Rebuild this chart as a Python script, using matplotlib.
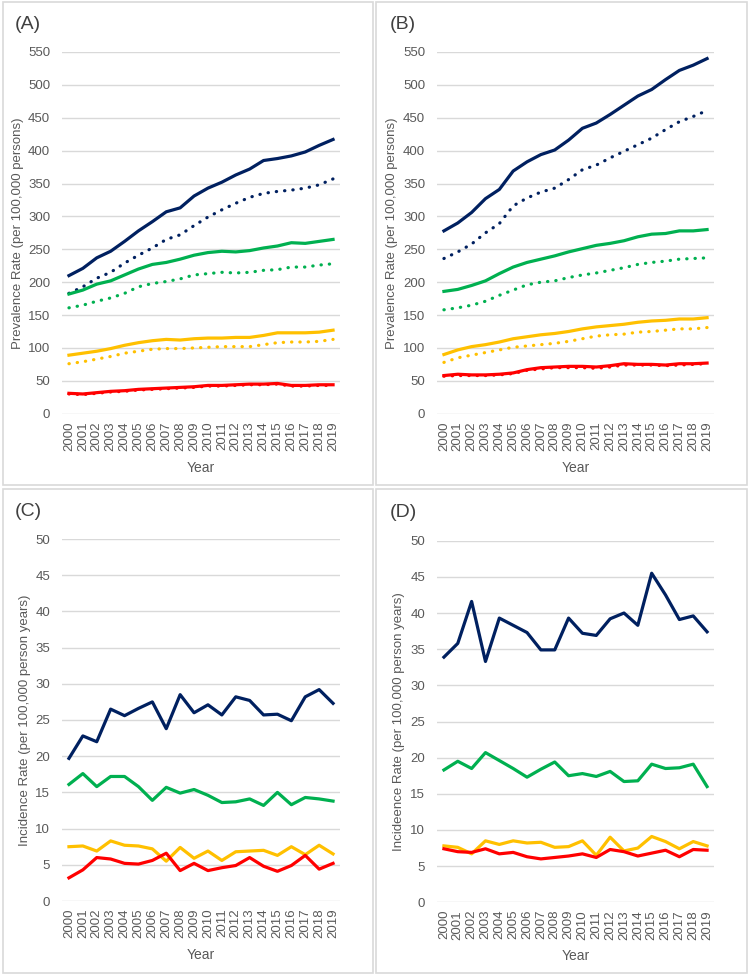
import matplotlib
matplotlib.use("Agg")
import matplotlib.pyplot as plt
from matplotlib.patches import Rectangle

plt.rcParams['font.family'] = ['Liberation Sans', 'DejaVu Sans']

years = [str(y) for y in range(2000, 2020)]

# Panel A - prevalence (solid / dotted)
a_navy = [210, 221, 237, 247, 262, 278, 292, 307, 313, 331, 343, 352, 363, 372, 385, 388, 392, 398, 408, 417]
a_navy_dot = [183, 193, 206, 215, 229, 241, 252, 265, 272, 286, 299, 310, 320, 329, 335, 338, 340, 343, 348, 357]
a_green = [182, 188, 197, 202, 211, 220, 227, 230, 235, 241, 245, 247, 246, 248, 252, 255, 260, 259, 262, 265]
a_green_dot = [161, 165, 171, 176, 183, 193, 198, 201, 205, 211, 213, 215, 214, 215, 218, 219, 223, 223, 226, 228]
a_yellow = [89, 92, 95, 99, 104, 108, 111, 113, 112, 114, 115, 115, 116, 116, 119, 123, 123, 123, 124, 127]
a_yellow_dot = [76, 79, 83, 87, 92, 95, 98, 99, 99, 100, 101, 102, 102, 102, 105, 108, 109, 109, 110, 113]
a_red = [31, 30, 32, 34, 35, 37, 38, 39, 40, 41, 43, 43, 44, 45, 45, 46, 43, 43, 44, 44]
a_red_dot = [30, 29, 31, 33, 34, 36, 37, 38, 39, 40, 42, 42, 43, 44, 44, 45, 42, 42, 43, 43]

# Panel B - prevalence (solid / dotted)
b_navy = [278, 290, 306, 327, 341, 369, 383, 394, 401, 416, 434, 442, 455, 469, 483, 493, 508, 522, 530, 540]
b_navy_dot = [236, 246, 258, 275, 289, 316, 328, 337, 343, 356, 371, 378, 389, 399, 409, 419, 432, 444, 452, 461]
b_green = [186, 189, 195, 202, 213, 223, 230, 235, 240, 246, 251, 256, 259, 263, 269, 273, 274, 278, 278, 280]
b_green_dot = [158, 161, 165, 171, 180, 188, 196, 200, 202, 207, 211, 214, 218, 222, 227, 230, 232, 235, 236, 237]
b_yellow = [90, 97, 102, 105, 109, 114, 117, 120, 122, 125, 129, 132, 134, 136, 139, 141, 142, 144, 144, 146]
b_yellow_dot = [78, 85, 89, 93, 97, 101, 103, 105, 107, 110, 114, 118, 120, 121, 124, 125, 127, 129, 129, 131]
b_red = [58, 60, 59, 59, 60, 62, 67, 70, 71, 72, 72, 71, 73, 76, 75, 75, 74, 76, 76, 77]
b_red_dot = [57, 58, 58, 58, 59, 61, 66, 68, 70, 70, 70, 69, 71, 74, 74, 74, 73, 74, 75, 76]

# Panel C - incidence
c_navy = [19.7, 22.8, 22.0, 26.5, 25.6, 26.6, 27.5, 23.8, 28.5, 26.0, 27.1, 25.7, 28.2, 27.7, 25.7, 25.8, 24.9, 28.2, 29.2, 27.3]
c_green = [16.1, 17.6, 15.8, 17.2, 17.2, 15.8, 13.9, 15.7, 14.9, 15.4, 14.6, 13.6, 13.7, 14.1, 13.2, 15.0, 13.3, 14.3, 14.1, 13.8]
c_yellow = [7.5, 7.6, 6.9, 8.3, 7.7, 7.6, 7.2, 5.5, 7.4, 5.9, 6.9, 5.6, 6.8, 6.9, 7.0, 6.3, 7.5, 6.4, 7.7, 6.5]
c_red = [3.2, 4.3, 6.0, 5.8, 5.2, 5.1, 5.6, 6.6, 4.2, 5.2, 4.2, 4.6, 4.9, 6.0, 4.8, 4.1, 4.9, 6.3, 4.4, 5.2]

# Panel D - incidence
d_navy = [33.9, 35.8, 41.6, 33.3, 39.3, 38.3, 37.3, 34.9, 34.9, 39.3, 37.2, 36.9, 39.2, 40.0, 38.3, 45.5, 42.5, 39.1, 39.6, 37.4]
d_green = [18.3, 19.5, 18.5, 20.7, 19.6, 18.5, 17.3, 18.4, 19.4, 17.5, 17.8, 17.4, 18.1, 16.7, 16.8, 19.1, 18.5, 18.6, 19.1, 16.0]
d_yellow = [7.8, 7.6, 6.7, 8.5, 8.0, 8.5, 8.2, 8.3, 7.6, 7.7, 8.5, 6.5, 9.0, 7.1, 7.5, 9.1, 8.4, 7.4, 8.4, 7.8]
d_red = [7.4, 7.0, 6.9, 7.4, 6.7, 6.9, 6.3, 6.0, 6.2, 6.4, 6.7, 6.2, 7.3, 7.0, 6.4, 6.8, 7.2, 6.3, 7.3, 7.2]

NAVY, GREEN, YELLOW, RED = "#002060", "#00B050", "#FFC000", "#FF0000"
GRAY = "#595959"

W, H = 750, 977
fig = plt.figure(figsize=(W / 100, H / 100), dpi=100)


def px_axes(x0, x1, ytop, ybot):
    return fig.add_axes([x0 / W, 1 - ybot / H, (x1 - x0) / W, (ybot - ytop) / H])


# light frames around each panel
for (x0, y0, x1, y1) in [(2.5, 2, 372.5, 485), (376, 2, 746.5, 485),
                         (2.5, 489, 372.5, 973), (376, 489, 746.5, 973)]:
    fig.patches.append(Rectangle((x0 / W, 1 - y1 / H), (x1 - x0) / W, (y1 - y0) / H,
                                 transform=fig.transFigure, fill=False,
                                 edgecolor="#d9d9d9", linewidth=1.2))

dots = (0, (0.1, 2.5))


def style(ax, ymax, step, ylabel, label, ylab_x):
    ax.set_xlim(-0.5, 19.5)
    ax.set_ylim(0, ymax)
    ax.set_yticks(range(0, ymax + 1, step))
    ax.set_xticks(range(20))
    ax.set_xticklabels(years, rotation=90)
    ax.grid(axis="y", color="#d9d9d9", linewidth=1)
    ax.set_axisbelow(True)
    for s in ax.spines.values():
        s.set_visible(False)
    ax.tick_params(axis="y", length=0, pad=8.5, labelsize=9.5, labelcolor=GRAY)
    ax.tick_params(axis="x", length=0, pad=5.5, labelsize=9.5, labelcolor=GRAY)
    ax.set_ylabel(ylabel, fontsize=9.5, color=GRAY)
    ax.yaxis.set_label_coords(ylab_x, 0.5)
    ax.set_xlabel("Year", fontsize=10, color=GRAY)
    ax.xaxis.set_label_coords(0.5, -0.13)
    ax.text(-0.17, 1.077, label, transform=ax.transAxes, fontsize=14,
            color="#404040", va="center", ha="left")


x = range(20)
lw = 2.3

axA = px_axes(62, 340, 52, 413.7)
for vals, c in [(a_navy_dot, NAVY), (a_green_dot, GREEN), (a_yellow_dot, YELLOW), (a_red_dot, RED)]:
    axA.plot(x, vals, color=c, lw=lw, linestyle=dots, dash_capstyle="round")
for vals, c in [(a_navy, NAVY), (a_green, GREEN), (a_yellow, YELLOW), (a_red, RED)]:
    axA.plot(x, vals, color=c, lw=lw)
style(axA, 550, 50, "Prevalence Rate (per 100,000 persons)", "(A)", -0.138)

axB = px_axes(437, 714, 52, 413.7)
for vals, c in [(b_navy_dot, NAVY), (b_green_dot, GREEN), (b_yellow_dot, YELLOW), (b_red_dot, RED)]:
    axB.plot(x, vals, color=c, lw=lw, linestyle=dots, dash_capstyle="round")
for vals, c in [(b_navy, NAVY), (b_green, GREEN), (b_yellow, YELLOW), (b_red, RED)]:
    axB.plot(x, vals, color=c, lw=lw)
style(axB, 550, 50, "Prevalence Rate (per 100,000 persons)", "(B)", -0.139)

axC = px_axes(62, 340, 539, 901)
for vals, c in [(c_navy, NAVY), (c_green, GREEN), (c_yellow, YELLOW), (c_red, RED)]:
    axC.plot(x, vals, color=c, lw=lw)
style(axC, 50, 5, "Incidence Rate (per 100,000 person years)", "(C)", -0.11)

axD = px_axes(437, 714, 540.7, 902.3)
for vals, c in [(d_navy, NAVY), (d_green, GREEN), (d_yellow, YELLOW), (d_red, RED)]:
    axD.plot(x, vals, color=c, lw=lw)
style(axD, 50, 5, "Incideence Rate (per 100,000 person years)", "(D)", -0.117)

fig.savefig("out.png", dpi=100)
